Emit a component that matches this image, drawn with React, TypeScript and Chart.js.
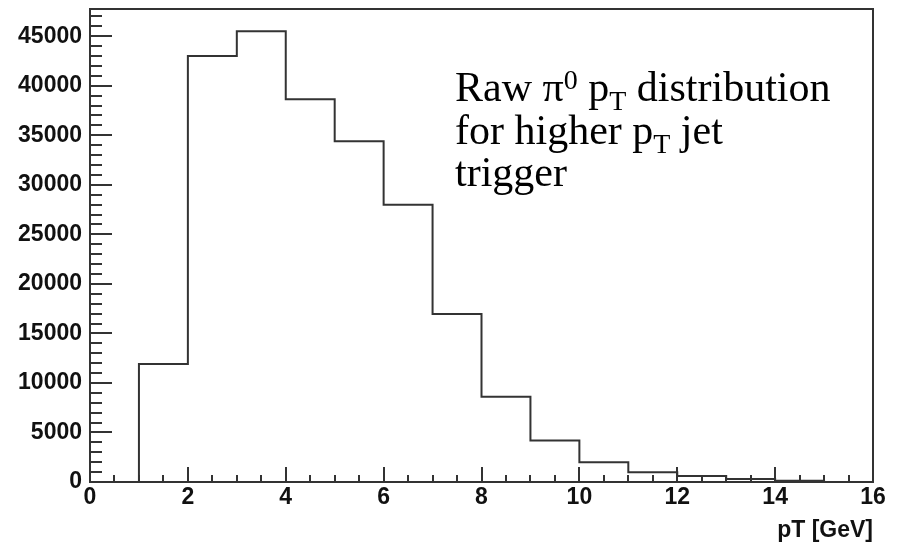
import React, { useEffect, useRef } from "react";
import { Chart, registerables } from "chart.js";

Chart.register(...registerables);

// Histogram: lower bin edges (GeV) and counts
const binLowEdges = [0, 1, 2, 3, 4, 5, 6, 7, 8, 9, 10, 11, 12, 13, 14, 15];
const binCounts = [0, 11900, 43000, 45500, 38650, 34400, 28000, 16950, 8600, 4180, 2000, 990, 600, 300, 130, 0];
const xUpperEdge = 16;

const xTickValues = [0, 2, 4, 6, 8, 10, 12, 14, 16];
const yTickValues = [0, 5000, 10000, 15000, 20000, 25000, 30000, 35000, 40000, 45000];
const xMinorStep = 0.5;
const yMinorStep = 1000;
const yMax = 47750;

const xTitle = "pT [GeV]";

const LINE = "#333333";
const AXIS_FONT = { family: "'Liberation Sans', Arial, sans-serif", size: 23, weight: "bold" as const };

const zeroPad = (s: any) => {
  s.paddingTop = 0;
  s.paddingBottom = 0;
  s.paddingLeft = 0;
  s.paddingRight = 0;
};

const frameTicksPlugin = {
  id: "frameTicks",
  afterDatasetsDraw(chart: any) {
    const { ctx, chartArea: a, scales } = chart;
    const xs = scales.x;
    const ys = scales.y;
    ctx.save();
    ctx.strokeStyle = LINE;
    ctx.lineWidth = 2;
    ctx.beginPath();
    for (let v = 0; v <= ys.max + 1e-6; v += yMinorStep) {
      const py = Math.round(ys.getPixelForValue(v));
      const major = Math.abs(v % 5000) < 1e-6;
      const len = major ? 22 : 12;
      ctx.moveTo(a.left, py);
      ctx.lineTo(a.left + len, py);
    }
    for (let v = xs.min; v <= xs.max + 1e-6; v += xMinorStep) {
      const px = Math.round(xs.getPixelForValue(v));
      const major = Math.abs(v % 2) < 1e-6;
      const len = major ? 15 : 7;
      ctx.moveTo(px, a.bottom);
      ctx.lineTo(px, a.bottom - len);
    }
    ctx.stroke();
    ctx.strokeRect(a.left, a.top, a.right - a.left, a.bottom - a.top);
    ctx.restore();
  },
  afterDraw(chart: any) {
    const { ctx } = chart;
    ctx.save();
    ctx.fillStyle = "#000";
    ctx.textBaseline = "alphabetic";
    const main = '42px "Liberation Serif", "Times New Roman", serif';
    const small = '28px "Liberation Serif", "Times New Roman", serif';
    const drawRuns = (x: number, y: number, runs: [string, string][]) => {
      let cx = x;
      for (const [kind, txt] of runs) {
        ctx.font = kind === "n" ? main : small;
        const dy = kind === "sup" ? -12 : kind === "sub" ? 9 : 0;
        ctx.fillText(txt, cx, y + dy);
        cx += ctx.measureText(txt).width;
      }
    };
    drawRuns(455, 101, [["n", "Raw \u03c0"], ["sup", "0"], ["n", " p"], ["sub", "T"], ["n", " distribution"]]);
    drawRuns(455, 144, [["n", "for higher p"], ["sub", "T"], ["n", " jet"]]);
    drawRuns(455, 186, [["n", "trigger"]]);
    ctx.restore();
  },
};

export default function App() {
  const ref = useRef<HTMLCanvasElement | null>(null);
  useEffect(() => {
    if (!ref.current) return;
    const points = binLowEdges.map((x, i) => ({ x, y: binCounts[i] }));
    points.push({ x: xUpperEdge, y: 0 });
    const chart = new Chart(ref.current, {
      type: "line",
      data: {
        datasets: [
          {
            data: points,
            stepped: "before",
            borderColor: LINE,
            borderWidth: 2,
            pointRadius: 0,
            fill: false,
            tension: 0,
          } as any,
        ],
      },
      options: {
        animation: false,
        responsive: true,
        maintainAspectRatio: false,
        layout: { padding: { top: 9, right: 26, left: 0, bottom: 0 } },
        plugins: { legend: { display: false }, tooltip: { enabled: false } },
        scales: {
          x: {
            type: "linear",
            min: 0,
            max: 16,
            grid: { display: false, drawTicks: false },
            border: { display: false },
            afterBuildTicks: (s: any) => {
              s.ticks = xTickValues.map((v) => ({ value: v }));
            },
            afterFit: (s: any) => {
              s.height = 64;
              zeroPad(s);
            },
            ticks: {
              autoSkip: false,
              maxRotation: 0,
              padding: 2,
              color: "#111",
              font: AXIS_FONT,
              callback: (v: any) => String(v),
            },
            title: {
              display: true,
              text: xTitle,
              align: "end",
              color: "#111",
              font: AXIS_FONT,
              padding: { top: 0, bottom: 2 },
            },
          },
          y: {
            type: "linear",
            min: 0,
            max: yMax,
            grid: { display: false, drawTicks: false },
            border: { display: false },
            afterBuildTicks: (s: any) => {
              s.ticks = yTickValues.map((v) => ({ value: v }));
            },
            afterFit: (s: any) => {
              s.width = 90;
              zeroPad(s);
            },
            ticks: {
              autoSkip: false,
              padding: 8,
              color: "#111",
              font: AXIS_FONT,
              callback: (v: any) => String(v),
            },
          },
        },
      },
      plugins: [frameTicksPlugin],
    });
    return () => chart.destroy();
  }, []);
  return (
    <div style={{ position: "fixed", left: 0, top: 0, width: 899, height: 546, background: "#fff" }}>
      <canvas ref={ref} />
    </div>
  );
}
